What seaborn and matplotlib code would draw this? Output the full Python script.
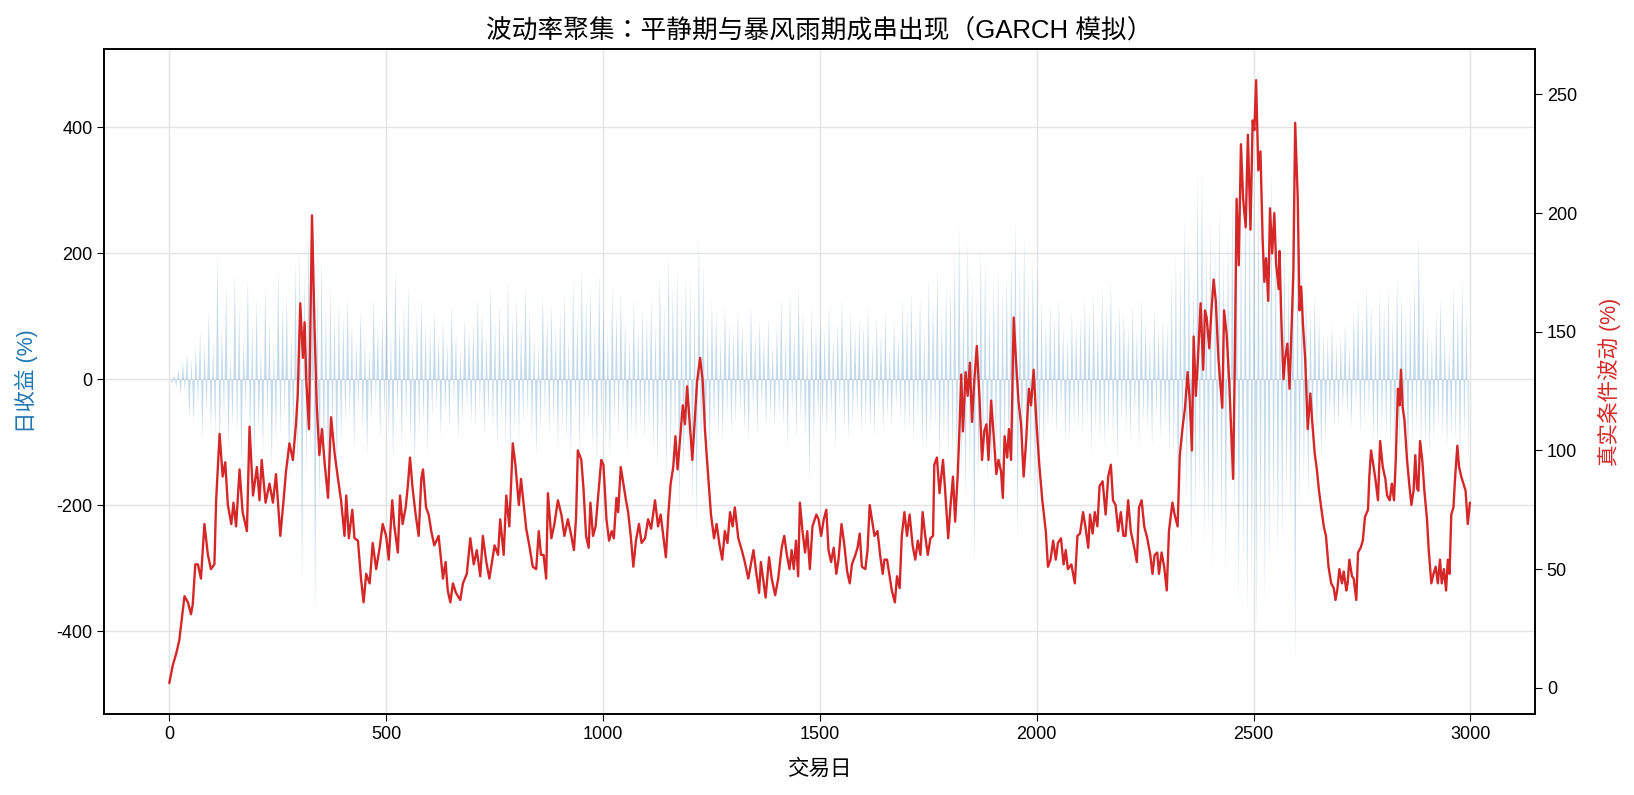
import numpy as np
import pandas as pd
import matplotlib
matplotlib.use("Agg")
import matplotlib.pyplot as plt
import seaborn as sns

# true conditional volatility (%)
vol_days = [0, 8, 16, 23, 30, 35, 43, 50, 54, 60, 66, 73, 81, 89, 96, 104, 108, 116, 123, 129,
            135, 143, 148, 154, 162, 169, 179, 185, 193, 202, 208, 213, 222, 231, 239, 246, 256, 263, 269, 277,
            285, 292, 296, 302, 308, 312, 316, 322, 329, 335, 340, 346, 352, 358, 366, 373, 381, 389, 396, 404,
            408, 414, 422, 427, 435, 442, 448, 454, 462, 469, 477, 485,
            492, 500, 506, 514, 519, 527, 532, 538, 545, 550, 555, 561, 568, 575, 581, 585, 592, 598, 604, 611,
            621, 631, 637, 642, 648, 654, 661, 671, 677, 686, 694, 702, 709, 717, 723, 731, 738, 750, 758, 763,
            771, 777, 784, 792, 798, 806, 811, 818, 823, 831, 838, 846, 852, 857, 863, 869, 873, 881, 888, 896,
            904, 911, 919, 927, 933, 938, 942, 950, 955, 961, 967, 971, 977, 983, 988, 996, 1001,
            1008, 1014, 1020, 1025, 1031, 1035, 1041, 1047, 1053, 1058, 1064, 1070, 1076, 1083, 1089, 1097,
            1104, 1111, 1120, 1127, 1133, 1139, 1145, 1151, 1156, 1162, 1167, 1172, 1179, 1184, 1189, 1194,
            1201, 1206, 1212, 1217, 1224, 1230, 1235, 1243, 1249, 1256, 1262, 1268, 1275, 1281, 1287, 1293,
            1299, 1304, 1312, 1320, 1327, 1335, 1340, 1347, 1353, 1360, 1364, 1370, 1375, 1383, 1389, 1397,
            1404, 1412, 1418, 1424, 1430, 1435, 1440, 1445, 1450, 1454, 1460, 1466, 1471, 1477, 1483,
            1492, 1497, 1503, 1509, 1515, 1520, 1526, 1532, 1538, 1543, 1550, 1556, 1563, 1569, 1574, 1582,
            1587, 1592, 1597, 1605, 1610, 1615, 1620, 1626, 1633, 1639, 1645, 1649, 1655, 1660, 1666, 1673,
            1678, 1684, 1689, 1695, 1701, 1707, 1714, 1720, 1726, 1732, 1737, 1743, 1749, 1755, 1761, 1764,
            1770, 1776, 1784, 1789, 1796, 1801, 1807, 1812, 1818, 1822, 1826, 1830, 1836, 1841, 1846, 1851,
            1856, 1862, 1868, 1874, 1879, 1884, 1889, 1895, 1901, 1907, 1912, 1918, 1922, 1926, 1932, 1936,
            1941, 1947, 1952, 1958, 1964, 1970, 1976, 1982, 1987, 1993,
            1999, 2006, 2013, 2021, 2026, 2032, 2038, 2044, 2049, 2056, 2062, 2067, 2072, 2080, 2088, 2094,
            2100, 2107, 2113, 2119, 2123, 2129, 2134, 2140, 2145, 2152, 2159, 2165, 2171, 2176, 2182, 2188,
            2194, 2200, 2205, 2211, 2217, 2225, 2231, 2236, 2242, 2248, 2255, 2262, 2267, 2272, 2278, 2282,
            2288, 2294, 2300, 2305, 2313, 2318, 2325, 2330, 2336, 2342, 2348, 2353, 2358, 2362, 2367, 2372,
            2378, 2384, 2388, 2392, 2398, 2403, 2408, 2413, 2419, 2423, 2428, 2432, 2438, 2444, 2448, 2453,
            2457, 2461, 2466, 2471, 2476, 2482,
            2487, 2493, 2498, 2502, 2506, 2511, 2516, 2521, 2525, 2529, 2534, 2538, 2543, 2548, 2552, 2558,
            2560, 2564, 2569, 2573, 2578, 2583, 2588, 2592, 2596, 2602, 2606, 2610, 2614, 2619, 2625, 2631,
            2635, 2641, 2646, 2651, 2656, 2662, 2667, 2673, 2679, 2685, 2689, 2693, 2698, 2704, 2708, 2714,
            2717, 2721, 2727, 2731, 2737, 2741, 2747, 2752, 2757, 2764, 2767, 2771, 2777, 2781, 2787, 2792,
            2798, 2804, 2808, 2814, 2819, 2824, 2828, 2833, 2837, 2840, 2844, 2848, 2854, 2859, 2864, 2869,
            2873, 2877, 2880, 2884, 2889, 2894, 2900, 2904, 2910, 2915, 2920, 2925, 2930, 2934, 2939, 2944,
            2948, 2952, 2956, 2961, 2965, 2970, 2974, 2979, 2984, 2989, 2994, 2999]
vol_vals = [2, 9.5, 14.5, 20, 31, 38.6, 36, 31, 35, 52, 52, 46, 69, 56, 50, 52, 79, 107, 89, 95,
            77, 69, 78, 68, 92, 74, 66, 110, 81, 93, 79, 96, 78, 86, 78, 90, 64, 78, 91, 103,
            96, 111, 123, 162, 139, 154, 129, 109, 199, 151, 119, 98, 109, 95, 80, 114, 99, 88, 79, 64,
            81, 63, 75, 63, 62, 46, 36, 48, 44, 61, 50, 59,
            69, 64, 54, 79, 68, 57, 81, 69, 76, 85, 97, 84, 73, 64, 88, 92, 76, 73, 66, 60,
            64, 46, 53, 41, 36, 44, 40, 37, 44, 48, 63, 52, 58, 47, 64, 53, 46, 60, 56, 71,
            56, 81, 68, 103, 94, 77, 88, 76, 67, 59, 51, 50, 66, 56, 56, 46, 82, 63, 69, 79,
            73, 64, 71, 64, 58, 72, 100, 96, 84, 64, 59, 78, 64, 68, 79, 96, 94,
            71, 62, 66, 63, 80, 74, 93, 86, 79, 74, 64, 51, 62, 69, 61, 63,
            71, 67, 79, 68, 73, 64, 55, 74, 86, 93, 106, 92, 108, 119, 111, 127,
            109, 96, 114, 129, 139, 129, 109, 88, 73, 63, 69, 61, 54, 66, 61, 74,
            68, 76, 63, 58, 53, 46, 51, 58, 49, 40, 53, 45, 38, 55, 46, 39,
            46, 59, 64, 56, 50, 58, 50, 62, 47, 78, 66, 57, 66, 50, 68,
            73, 71, 64, 71, 75, 58, 53, 59, 48, 54, 69, 61, 49, 44, 52, 56,
            59, 65, 51, 50, 58, 77, 71, 64, 66, 56, 48, 54, 54, 48, 41, 36,
            47, 42, 64, 74, 64, 73, 60, 54, 62, 56, 74, 64, 56, 63, 64, 94,
            97, 82, 96, 83, 63, 76, 89, 70, 90, 109, 132, 108, 133, 123, 137, 112,
            129, 144, 123, 96, 108, 111, 96, 121, 106, 90, 96, 91, 80, 106, 97, 109,
            96, 156, 139, 121, 111, 89, 105, 126, 119, 134,
            113, 94, 79, 66, 51, 54, 62, 54, 61, 63, 52, 58, 50, 52, 44, 64,
            65, 74, 67, 59, 73, 65, 74, 68, 85, 87, 73, 89, 94, 79, 77, 66,
            74, 64, 64, 79, 66, 59, 53, 76, 79, 68, 63, 56, 48, 56, 57, 48,
            57, 51, 41, 66, 78, 73, 68, 98, 109, 118, 133, 121, 100, 148, 123, 139,
            162, 134, 159, 156, 143, 159, 172, 163, 139, 129, 118, 159, 149, 129, 111, 88,
            139, 206, 178, 229, 206, 194,
            233, 193, 239, 235, 256, 218, 226, 189, 171, 181, 163, 202, 183, 200, 179, 168,
            184, 156, 130, 139, 145, 126, 153, 176, 238, 206, 159, 169, 153, 139, 109, 124,
            113, 99, 92, 83, 76, 68, 64, 51, 44, 42, 37, 41, 50, 44, 49, 41,
            44, 54, 47, 46, 37, 57, 59, 62, 72, 75, 89, 100, 93, 88, 79, 104,
            93, 88, 81, 79, 86, 79, 96, 126, 119, 134, 118, 113, 96, 86, 77, 83,
            98, 84, 83, 104, 96, 83, 71, 58, 44, 48, 51, 44, 54, 44, 50, 41,
            54, 48, 73, 76, 89, 102, 93, 89, 86, 83, 69, 78]

# daily returns (%), one reading every 5 trading days
ret_days = list(range(0, 3000, 5))
ret_vals = [2, -5, 8, -12, 18, -25, 30, -20, 45, -60, 35, -70, 55, -40, 80, -95, 60, -50, 110, -85,
            60, -90, 200, -120, 85, -60, 150, -110, 40, -75, 170, -95, 120, -140, 70, -50, 160, -100, 90, -130,
            130, -85, 55, -120, 150, -70, 95, -140, 60, -100, 175, -90, 120, -60, 140, -160, 80, -110, 190, -150,
            210, -330, 180, -150, 240, -120, 290, -380, 160, -210, 200, -140, 120, -180, 150, -90, 110, -160, 130, -100,
            100, -70, 130, -60, 90, -110, 60, -45, 110, -80, 70, -120, 50, -65, 130, -40, 85, -95, 105, -60,
            140, -90, 75, -130, 180, -60, 95, -110, 120, -70, 150, -100, 60, -140, 110, -85, 130, -70, 90, -120,
            85, -60, 110, -45, 70, -90, 95, -55, 60, -80, 120, -40, 75, -95, 50, -65, 100, -50, 80, -70,
            90, -75, 130, -50, 110, -90, 70, -60, 150, -80, 95, -110, 120, -65, 80, -100, 160, -130, 100, -85,
            130, -100, 90, -70, 150, -60, 110, -95, 75, -120, 60, -80, 140, -55, 100, -90, 120, -70, 85, -110,
            110, -80, 140, -95, 70, -130, 160, -60, 100, -120, 180, -90, 130, -70, 150, -110, 90, -140, 170, -80,
            120, -100, 80, -130, 150, -70, 110, -90, 140, -60, 95, -120, 70, -85, 130, -100, 85, -75, 115, -95,
            100, -80, 130, -110, 90, -140, 170, -90, 120, -160, 200, -130, 150, -100, 180, -220, 130, -150, 170, -120,
            160, -200, 140, -240, 230, -130, 180, -150, 100, -120, 130, -80, 110, -95, 70, -100, 120, -60, 90, -85,
            80, -70, 110, -55, 90, -80, 60, -100, 120, -50, 75, -90, 95, -45, 70, -80, 100, -60, 55, -75,
            90, -60, 130, -75, 70, -110, 140, -50, 85, -95, 150, -70, 110, -90, 60, -160, 120, -100, 90, -65,
            100, -75, 80, -90, 120, -60, 70, -110, 90, -50, 130, -80, 60, -95, 110, -70, 85, -60, 100, -85,
            90, -70, 120, -80, 60, -90, 100, -50, 75, -85, 110, -60, 50, -75, 95, -45, 70, -65, 130, -90,
            110, -80, 140, -100, 90, -60, 130, -110, 80, -120, 160, -90, 120, -75, 180, -140, 110, -100, 150, -130,
            150, -120, 200, -170, 245, -140, 130, -190, 220, -150, 170, -300, 140, -160, 210, -130, 190, -170, 120, -150,
            160, -130, 180, -200, 140, -120, 170, -150, 200, -110, 255, -260, 190, -170, 230, -140, 160, -180, 200, -210,
            180, -150, 130, -110, 90, -80, 120, -70, 100, -90, 130, -60, 85, -100, 70, -95, 110, -75, 90, -80,
            100, -90, 130, -70, 110, -120, 140, -80, 90, -100, 150, -110, 120, -85, 160, -95, 100, -130, 120, -70,
            110, -85, 90, -100, 120, -60, 80, -110, 130, -70, 95, -80, 70, -105, 115, -60, 85, -95, 100, -75,
            90, -120, 160, -130, 200, -240, 180, -150, 260, -200, 230, -280, 170, -220, 330, -190, 340, -260, 220, -250,
            260, -300, 220, -190, 280, -250, 200, -310, 240, -180, 300, -220, 330, -360, 270, -290, 350, -380, 310, -340,
            380, -400, 320, -270, 290, -350, 260, -300, 340, -230, 250, -280, 200, -260, 230, -190, 180, -230, 300, -460,
            240, -200, 180, -160, 150, -190, 120, -100, 140, -90, 110, -130, 80, -100, 70, -60, 90, -80, 60, -75,
            70, -50, 90, -60, 55, -80, 110, -45, 130, -90, 100, -70, 150, -60, 120, -100, 80, -110, 140, -85,
            120, -95, 150, -110, 100, -130, 170, -120, 140, -90, 110, -150, 130, -100, 160, -85, 230, -120, 140, -110,
            90, -120, 70, -100, 110, -80, 130, -90, 80, -110, 60, -95, 150, -100, 120, -130, 160, -90, 110, -140]

vol_df = pd.DataFrame({"day": vol_days, "vol": vol_vals})

sns.set_style("ticks")
plt.rcParams['font.family'] = ['Liberation Sans', 'Noto Sans CJK TC']
plt.rcParams['axes.unicode_minus'] = False
plt.rcParams['text.color'] = 'black'
plt.rcParams['xtick.color'] = 'black'
plt.rcParams['ytick.color'] = 'black'
plt.rcParams['axes.labelcolor'] = 'black'

fig, ax = plt.subplots(figsize=(16.34, 7.95), dpi=100)
fig.subplots_adjust(left=0.0638, right=0.9394, bottom=0.102, top=0.938)

# returns as a faint filled series on the left axis
ax.fill_between(ret_days, 0, ret_vals, color='#1f77b4', alpha=0.26, linewidth=0)
ax.set_ylim(-531, 524)
ax.set_xlim(-150, 3149)
ax.set_yticks([-400, -200, 0, 200, 400])
ax.grid(True, color='#e3e3e3', linewidth=1)
ax.set_axisbelow(True)
ax.set_xlabel("交易日", fontsize=15.5, labelpad=12)
ax.set_ylabel("日收益 (%)", color='#1f77b4', fontsize=15.5, labelpad=13)
ax.tick_params(labelsize=13, length=5)

# conditional volatility on the right axis
ax2 = ax.twinx()
sns.lineplot(data=vol_df, x="day", y="vol", ax=ax2, color='#d62728', linewidth=1.7)
ax2.set_ylim(-11, 269)
ax2.set_yticks([0, 50, 100, 150, 200, 250])
ax2.set_ylabel("真实条件波动 (%)", color='#d62728', fontsize=15.5, labelpad=15)
ax2.tick_params(labelsize=13, length=5)

for a in (ax, ax2):
    for s in a.spines.values():
        s.set_visible(True)
        s.set_color('black')
        s.set_linewidth(1.2)

ax.set_title("波动率聚集：平静期与暴风雨期成串出现（GARCH 模拟）", fontsize=18.5, pad=8)

plt.savefig("out.png", dpi=100)
